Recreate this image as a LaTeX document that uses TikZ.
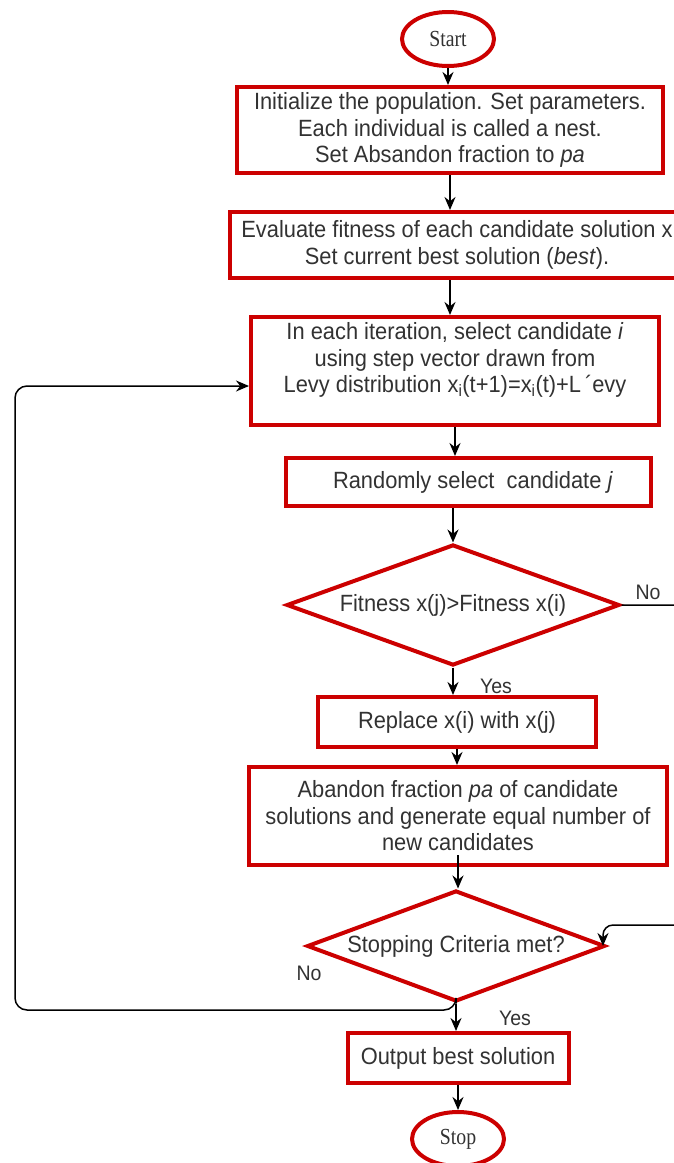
\documentclass[tikz,border=0pt]{standalone}
\usepackage{fontspec}
\setmainfont{Liberation Sans}[FakeStretch=0.93]
\newfontfamily\termfont{Liberation Serif}[FakeStretch=0.86]
\usetikzlibrary{shapes.geometric,arrows.meta}
\definecolor{boxred}{RGB}{204,0,0}
\definecolor{txt}{RGB}{50,50,50}

\begin{document}
\begin{tikzpicture}[x=1pt,y=-1pt,
  every node/.style={text=txt},
  procbox/.style={draw=boxred, line width=4pt, rectangle, inner sep=0pt, align=center,
                  font=\fontsize{23.5}{26.5}\selectfont},
  decision/.style={draw=boxred, line width=4pt, diamond, inner sep=0pt, align=center,
                   font=\fontsize{23.5}{26.5}\selectfont},
  terminal/.style={draw=boxred, line width=4pt, ellipse, inner sep=0pt,
                   minimum width=92pt, minimum height=54pt,
                   font=\termfont\fontsize{23}{26}\selectfont},
  flow/.style={draw=black, line width=1.5pt, -{Stealth[length=13pt,width=11pt]}},
  lbl/.style={font=\fontsize{21}{24}\selectfont, inner sep=0pt}
]
% page frame
\useasboundingbox (0,0) rectangle (673,1163);
\fill[white] (0,0) rectangle (673,1163);

% flowchart blocks
\node[terminal] (start) at (448,39) {Start};
\node[procbox, minimum width=426pt, minimum height=86pt] (init) at (450,130)
  {Initialize the population. Set parameters.\\ Each individual is called a nest.\\ Set Absandon fraction to \textit{pa}};
\node[procbox, minimum width=454pt, minimum height=66pt] (eval) at (457,245)
  {Evaluate fitness of each candidate solution x\\ Set current best solution (\textit{best}).};
\node[procbox, minimum width=408pt, minimum height=108pt] (iter) at (455,371)
  {In each iteration, select candidate \textit{i}\\ using step vector drawn from\\
   Levy distribution x\textsubscript{i}(t+1)=x\textsubscript{i}(t)+L\,´evy\hspace*{46pt}\\ \mbox{}};
\node[procbox, minimum width=365pt, minimum height=48pt] (rand) at (468,482)
  {\hspace*{10pt}Randomly select\ \ candidate \textit{j}};
\node[decision, minimum width=333pt, minimum height=121pt, aspect=2.75] (fit) at (453,605)
  {Fitness x(j)>Fitness x(i)};
\node[procbox, minimum width=278pt, minimum height=50pt] (repl) at (457,722)
  {Replace x(i) with x(j)};
\node[procbox, minimum width=418pt, minimum height=98pt] (aband) at (458,816)
  {Abandon fraction \textit{pa} of candidate\\ solutions and generate equal number of\\ new candidates};
\node[decision, minimum width=298pt, minimum height=111pt, aspect=2.7] (stopq) at (456,946)
  {Stopping Criteria met?};
\node[procbox, minimum width=221pt, minimum height=50pt] (out) at (458,1058)
  {Output best solution};
\node[terminal] (stop) at (458,1139) {Stop};

% branch labels
\node[lbl] (no1) at (648,592) {No};
\node[lbl] (yes1) at (496,686) {Yes};
\node[lbl] (no2) at (309,973) {No};
\node[lbl] (yes2) at (515,1018) {Yes};

% routing points of the two return paths
\coordinate (rt1) at (700,605);
\coordinate (rt2) at (700,925);
\coordinate (lb1) at (456,1010);
\coordinate (lb2) at (15,1010);
\coordinate (lt) at (15,386);

% main flow
\draw[flow] (start.south) -- (start.south |- init.north);
\draw[flow] (init.south) -- (init.south |- eval.north);
\draw[flow] (init.south |- eval.south) -- (init.south |- iter.north);
\draw[flow] (iter.south) -- (iter.south |- rand.north);
\draw[flow] (fit.north |- rand.south) -- (fit.north);
\draw[flow] (fit.south) -- (fit.south |- repl.north);
\draw[flow] (repl.south) -- (repl.south |- aband.north);
\draw[flow] ([yshift=12pt]aband.south) -- (aband.south |- stopq.north);
\draw[flow] (stopq.south) -- (stopq.south |- out.north);
\draw[flow] (out.south) -- (out.south |- stop.north);

% "No" from the fitness test, back in above the stopping test
\draw[flow, rounded corners=10pt] (fit.east) -- (rt1) -- (rt2)
  -- ([xshift=-4pt]stopq.east |- rt2) -- ([xshift=-4pt]stopq.east);

% "No" from the stopping test, loop back to the iteration step
\draw[flow, rounded corners=12pt] (stopq.south) -- (lb1) -- (lb2) -- (lt)
  -- (lt -| iter.west);
\end{tikzpicture}
\end{document}
